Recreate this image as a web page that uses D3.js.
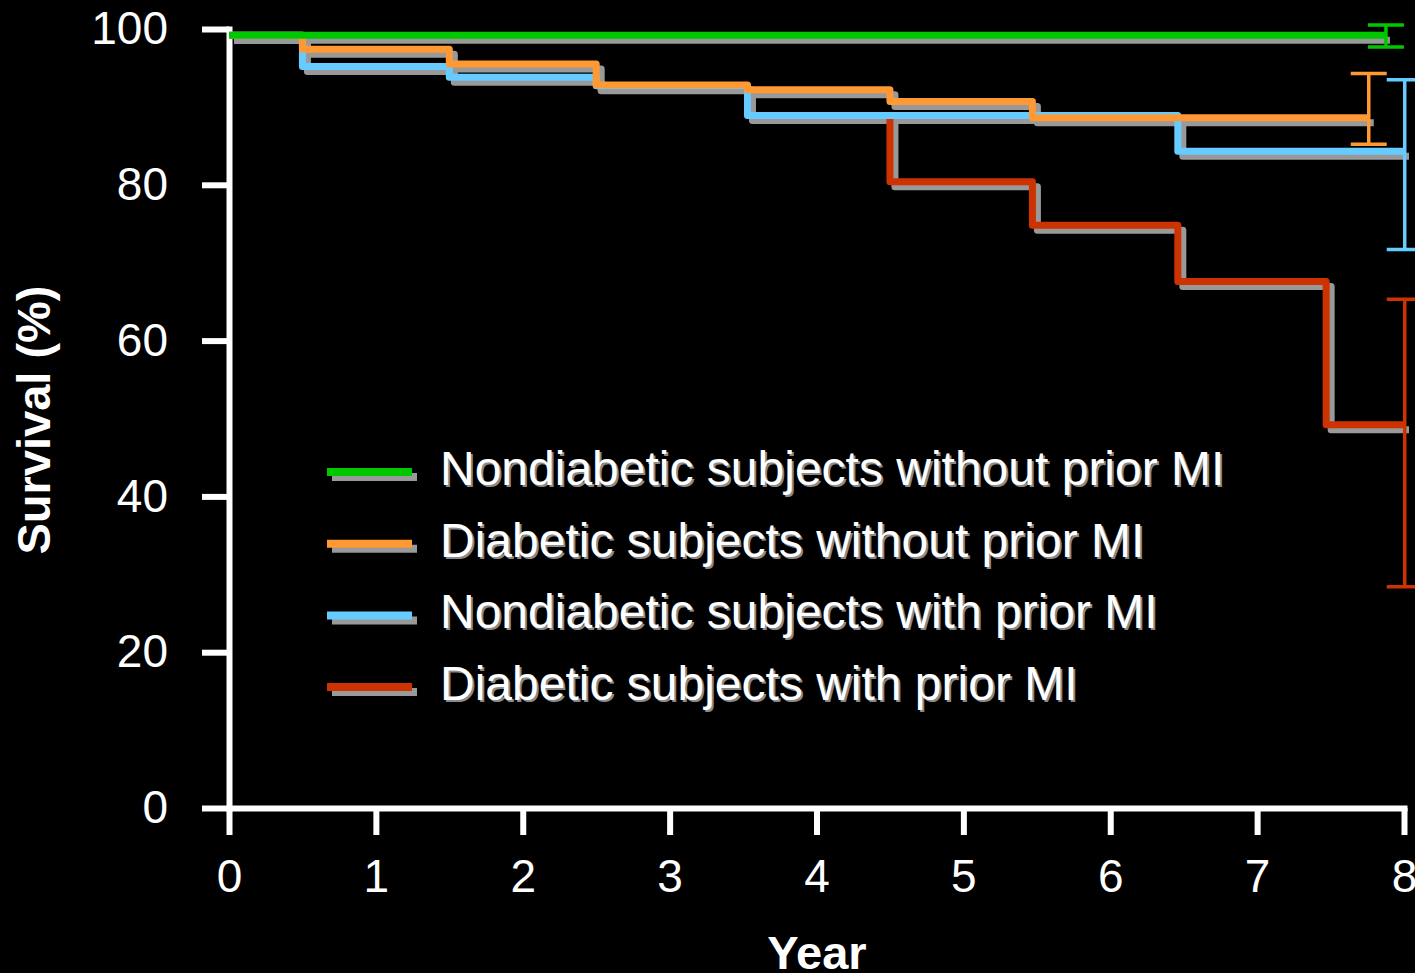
<!DOCTYPE html>
<html>
<head>
<meta charset="utf-8">
<script src="https://cdn.jsdelivr.net/npm/d3@7"></script>
<style>
  html, body { margin: 0; padding: 0; background: #000; }
  svg { display: block; font-family: "Liberation Sans", Arial, sans-serif; }
</style>
</head>
<body>
<svg id="chart" width="1415" height="973"></svg>
<script>
// series data (year of each step, survival % after the step)
const seriesNames = [
  'Nondiabetic subjects without prior MI',
  'Diabetic subjects without prior MI',
  'Nondiabetic subjects with prior MI',
  'Diabetic subjects with prior MI'
];
const seriesColors = ['#00c800', '#ff9933', '#66ccff', '#cc3300'];

const greenYears = [0, 7.87];
const greenSurv = [99.2, 99.2];
const orangeYears = [0, 0.5, 1.5, 2.5, 3.53, 4.5, 5.47, 7.76];
const orangeSurv = [99.2, 97.4, 95.5, 92.8, 92.2, 90.7, 88.6, 88.6];
const blueYears = [0, 0.5, 1.5, 2.5, 3.53, 6.46, 8.0];
const blueSurv = [99.2, 95.2, 93.8, 92.7, 88.9, 84.3, 84.3];
const redYears = [4.5, 4.5, 5.47, 6.46, 7.47, 8.0];
const redSurv = [88.5, 80.4, 74.8, 67.6, 49.2, 49.2];

// 95% CI at end of follow-up
const ciYear = [7.877, 7.76, 8.005, 8.005];
const ciLow = [97.7, 85.2, 71.7, 28.4];
const ciHigh = [100.5, 94.3, 93.5, 65.3];

const xTicks = [0, 1, 2, 3, 4, 5, 6, 7, 8];
const yTicks = [0, 20, 40, 60, 80, 100];

const svg = d3.select('#chart');
const x = d3.scaleLinear().domain([0, 8]).range([229, 1404]);
const y = d3.scaleLinear().domain([0, 100]).range([808, 29]);

const allSeries = [
  d3.zip(greenYears, greenSurv),
  d3.zip(orangeYears, orangeSurv),
  d3.zip(blueYears, blueSurv),
  d3.zip(redYears, redSurv)
];

// axes
const yAxis = svg.append('g')
  .attr('transform', 'translate(229,0)')
  .call(d3.axisLeft(y).tickValues(yTicks).tickSize(27).tickSizeOuter(0).tickPadding(34));
const xAxis = svg.append('g')
  .attr('transform', 'translate(0,808)')
  .call(d3.axisBottom(x).tickValues(xTicks).tickSize(27).tickSizeOuter(0).tickPadding(24));

[yAxis, xAxis].forEach(function(a) {
  a.select('.domain').attr('stroke', '#fff').attr('stroke-width', 6).attr('stroke-linecap', 'square');
  a.selectAll('.tick line').attr('stroke', '#fff').attr('stroke-width', 6);
  a.selectAll('.tick text').attr('fill', '#fff').style('font-size', '46px')
    .style('font-family', '"Liberation Sans", Arial, sans-serif');
});

// axis titles
svg.append('text')
  .attr('x', 817).attr('y', 969)
  .attr('text-anchor', 'middle')
  .attr('fill', '#fff')
  .style('font-size', '47px').style('font-weight', 'bold')
  .text('Year');
svg.append('text')
  .attr('transform', 'translate(50,420) rotate(-90)')
  .attr('text-anchor', 'middle')
  .attr('fill', '#fff')
  .style('font-size', '47px').style('font-weight', 'bold')
  .text('Survival (%)');

// step lines, shadows first then coloured lines (red at the bottom, green on top)
const line = d3.line()
  .x(function(d) { return x(d[0]); })
  .y(function(d) { return y(d[1]); })
  .curve(d3.curveStepAfter);

const order = [3, 2, 1, 0];
order.forEach(function(i) {
  svg.append('path')
    .attr('d', line(allSeries[i]))
    .attr('transform', 'translate(5,5)')
    .attr('fill', 'none')
    .attr('stroke', '#999')
    .attr('stroke-width', 7)
    .attr('stroke-linejoin', 'round');
});
order.forEach(function(i) {
  svg.append('path')
    .attr('d', line(allSeries[i]))
    .attr('fill', 'none')
    .attr('stroke', seriesColors[i])
    .attr('stroke-width', 7)
    .attr('stroke-linejoin', 'round');
});

// error bars
const ci = svg.append('g');
seriesColors.forEach(function(c, i) {
  const cx = x(ciYear[i]);
  ci.append('line').attr('x1', cx).attr('x2', cx)
    .attr('y1', y(ciHigh[i])).attr('y2', y(ciLow[i]))
    .attr('stroke', c).attr('stroke-width', 3.5);
  [ciHigh[i], ciLow[i]].forEach(function(v) {
    ci.append('line').attr('x1', cx - 18).attr('x2', cx + 18)
      .attr('y1', y(v)).attr('y2', y(v))
      .attr('stroke', c).attr('stroke-width', 3.5);
  });
});

// legend
const legend = svg.append('g');
seriesNames.forEach(function(name, i) {
  const base = 485 + i * 71.7;
  const ly = base - 13;
  legend.append('line').attr('x1', 332).attr('x2', 417)
    .attr('y1', ly + 5).attr('y2', ly + 5)
    .attr('stroke', '#999').attr('stroke-width', 8);
  legend.append('line').attr('x1', 327).attr('x2', 412)
    .attr('y1', ly).attr('y2', ly)
    .attr('stroke', seriesColors[i]).attr('stroke-width', 8);
  legend.append('text').attr('x', 442).attr('y', base + 2)
    .attr('fill', '#8a8a8a').style('font-size', '48px').text(name);
  legend.append('text').attr('x', 440).attr('y', base)
    .attr('fill', '#fff').style('font-size', '48px').text(name);
});
</script>
</body>
</html>
